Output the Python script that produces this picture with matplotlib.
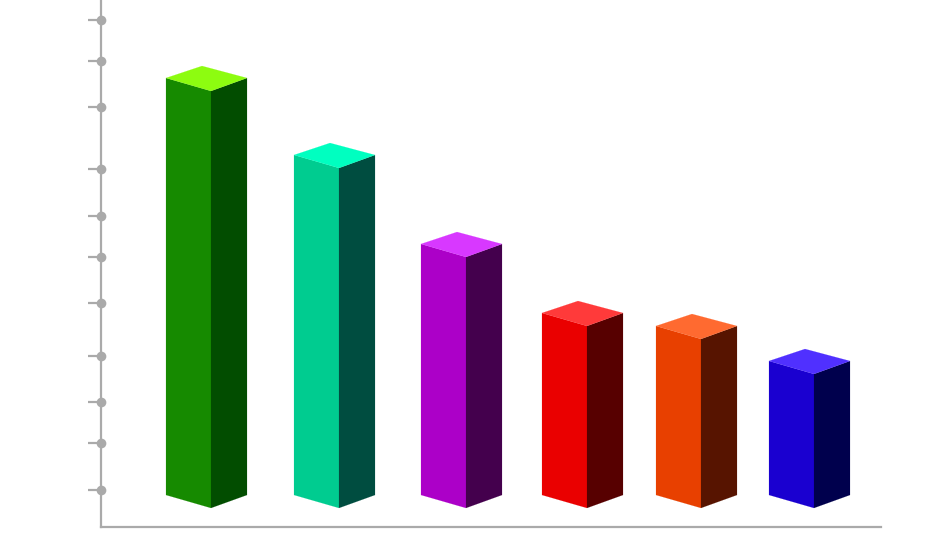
import matplotlib
matplotlib.use('Agg')
import matplotlib.pyplot as plt

# axes run in image pixels, measured up from the x axis line
left_x = [65.5, 193.5, 320.5, 441.5, 555.5, 668.5]     # left edge of each bar
values = [417, 340, 251, 182, 169, 134]     # height of the front edge
front = ['#168a00', '#00cc90', '#ac00c8', '#ea0000', '#e84000', '#1a00d0']
side = ['#024d00', '#004d40', '#44004d', '#570000', '#571400', '#00004d']
top = ['#8dfc10', '#00ffc0', '#d838ff', '#ff3a3a', '#ff6a30', '#5030ff']
y_ticks = [507, 466, 420, 358, 311, 270, 224, 171, 125, 84, 37]

front_w = 45
side_w = 36
drop = 13
base = 19    # lowest point of the bars above the x axis

fig = plt.figure(figsize=(9.5, 5.34), dpi=100)
ax = fig.add_axes([100.5 / 950, 7 / 534, 780.5 / 950, 527 / 534])
ax.set_xlim(0, 780.5)
ax.set_ylim(0, 527)

for x, v, c1, c2, c3 in zip(left_x, values, front, side, top):
    mid = x + front_w
    right = mid + side_w
    y0 = base
    y1 = base + v
    ax.fill([x, mid, mid, x], [y0 + drop, y0, y1, y1 + drop], color=c1, lw=0.1)
    ax.fill([mid, right, right, mid], [y0, y0 + drop, y1 + drop, y1], color=c2, lw=0.1)
    ax.fill([x, mid, right, x + side_w], [y1 + drop, y1, y1 + drop, y1 + 2 * drop - 1], color=c3, lw=0.1)

# axis lines with the round dots on the ticks
for s in ['top', 'right']:
    ax.spines[s].set_visible(False)
for s in ['left', 'bottom']:
    ax.spines[s].set_color('#aaaaaa')
    ax.spines[s].set_linewidth(1.6)
ax.set_xticks([])
ax.set_yticks(y_ticks)
ax.set_yticklabels([])
ax.tick_params(axis='y', length=9.5, width=1.6, color='#aaaaaa')
ax.plot([0] * len(y_ticks), y_ticks, 'o', ms=7, color='#aaaaaa', mew=0, clip_on=False)

fig.savefig('out.png', dpi=100)
